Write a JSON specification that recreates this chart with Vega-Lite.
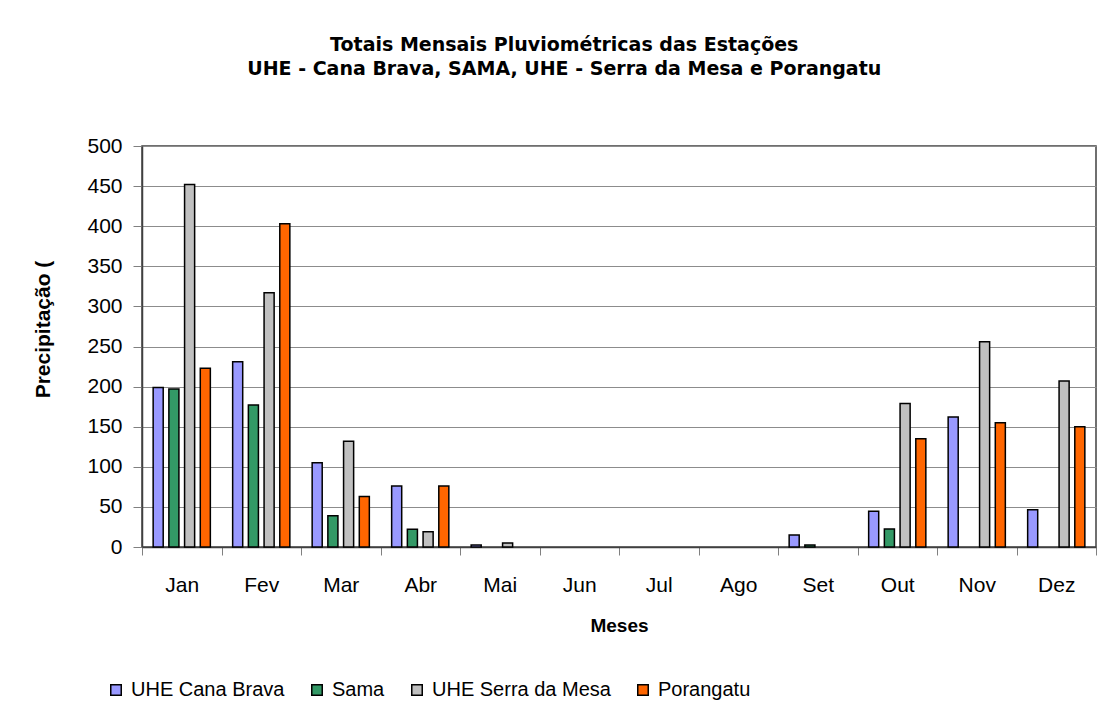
{
  "$schema": "https://vega.github.io/schema/vega-lite/v6.json",
  "width": 954,
  "height": 401,
  "autosize": {"type": "none"},
  "padding": {"left": 142, "top": 146, "right": 15, "bottom": 180},
  "background": "white",
  "title": {
    "text": ["Totais Mensais Pluviométricas das Estações", "UHE - Cana Brava, SAMA, UHE - Serra da Mesa e Porangatu"],
    "font": "DejaVu Sans",
    "fontSize": 19,
    "fontWeight": "bold",
    "lineHeight": 24,
    "anchor": "middle",
    "frame": "bounds",
    "offset": 56,
    "color": "black"
  },
  "config": {
    "view": {"stroke": "#404040", "strokeWidth": 1.5},
    "axis": {"labelFont": "Liberation Sans", "titleFont": "Liberation Sans", "labelColor": "black", "titleColor": "black"}
  },
  "data": {
    "values": [
      {"mes": "Jan", "estacao": "UHE Cana Brava", "valor": 199},
      {"mes": "Jan", "estacao": "Sama", "valor": 197},
      {"mes": "Jan", "estacao": "UHE Serra da Mesa", "valor": 452},
      {"mes": "Jan", "estacao": "Porangatu", "valor": 223},
      {"mes": "Fev", "estacao": "UHE Cana Brava", "valor": 231},
      {"mes": "Fev", "estacao": "Sama", "valor": 177},
      {"mes": "Fev", "estacao": "UHE Serra da Mesa", "valor": 317},
      {"mes": "Fev", "estacao": "Porangatu", "valor": 403},
      {"mes": "Mar", "estacao": "UHE Cana Brava", "valor": 105},
      {"mes": "Mar", "estacao": "Sama", "valor": 39},
      {"mes": "Mar", "estacao": "UHE Serra da Mesa", "valor": 132},
      {"mes": "Mar", "estacao": "Porangatu", "valor": 63},
      {"mes": "Abr", "estacao": "UHE Cana Brava", "valor": 76},
      {"mes": "Abr", "estacao": "Sama", "valor": 22},
      {"mes": "Abr", "estacao": "UHE Serra da Mesa", "valor": 19},
      {"mes": "Abr", "estacao": "Porangatu", "valor": 76},
      {"mes": "Mai", "estacao": "UHE Cana Brava", "valor": 2.5},
      {"mes": "Mai", "estacao": "UHE Serra da Mesa", "valor": 5},
      {"mes": "Set", "estacao": "UHE Cana Brava", "valor": 15},
      {"mes": "Set", "estacao": "Sama", "valor": 2.5},
      {"mes": "Out", "estacao": "UHE Cana Brava", "valor": 44.5},
      {"mes": "Out", "estacao": "Sama", "valor": 22.5},
      {"mes": "Out", "estacao": "UHE Serra da Mesa", "valor": 179},
      {"mes": "Out", "estacao": "Porangatu", "valor": 135},
      {"mes": "Nov", "estacao": "UHE Cana Brava", "valor": 162},
      {"mes": "Nov", "estacao": "UHE Serra da Mesa", "valor": 256},
      {"mes": "Nov", "estacao": "Porangatu", "valor": 155},
      {"mes": "Dez", "estacao": "UHE Cana Brava", "valor": 46.5},
      {"mes": "Dez", "estacao": "UHE Serra da Mesa", "valor": 207},
      {"mes": "Dez", "estacao": "Porangatu", "valor": 150}
    ]
  },
  "mark": {"type": "bar", "stroke": "black", "strokeWidth": 1.5},
  "encoding": {
    "x": {
      "field": "mes",
      "type": "nominal",
      "scale": {"domain": ["Jan", "Fev", "Mar", "Abr", "Mai", "Jun", "Jul", "Ago", "Set", "Out", "Nov", "Dez"], "paddingInner": 0, "paddingOuter": 0},
      "title": "Meses",
      "axis": {
        "labelAngle": 0,
        "labelFontSize": 21,
        "labelPadding": 19,
        "tickBand": "extent",
        "tickSize": 8,
        "tickColor": "#808080",
        "domainColor": "#404040",
        "domainWidth": 1.5,
        "titleFontSize": 19,
        "titleFontWeight": "bold",
        "titlePadding": 21
      }
    },
    "xOffset": {
      "field": "estacao",
      "scale": {"domain": ["UHE Cana Brava", "Sama", "UHE Serra da Mesa", "Porangatu"], "paddingInner": 0.36, "paddingOuter": 0.71}
    },
    "y": {
      "field": "valor",
      "type": "quantitative",
      "scale": {"domain": [0, 500]},
      "title": "Precipitação (",
      "axis": {
        "values": [0, 50, 100, 150, 200, 250, 300, 350, 400, 450, 500],
        "labelFontSize": 21,
        "labelPadding": 11,
        "tickSize": 9,
        "tickColor": "#808080",
        "domainColor": "#404040",
        "domainWidth": 1.5,
        "gridColor": "#8c8c8c",
        "gridWidth": 1,
        "titleFontSize": 21,
        "titleFontWeight": "bold",
        "titleX": -89,
        "titleY": 183
      }
    },
    "color": {
      "field": "estacao",
      "type": "nominal",
      "scale": {"domain": ["UHE Cana Brava", "Sama", "UHE Serra da Mesa", "Porangatu"], "range": ["#9999FF", "#339966", "#C0C0C0", "#FF6600"]},
      "legend": {
        "title": null,
        "orient": "none",
        "legendX": -36,
        "legendY": 534,
        "direction": "horizontal",
        "symbolType": "square",
        "symbolSize": 110,
        "symbolStrokeColor": "black",
        "symbolStrokeWidth": 1.5,
        "symbolOpacity": 1,
        "labelFont": "Liberation Sans",
        "labelFontSize": 20,
        "labelColor": "black",
        "labelOffset": 5,
        "columnPadding": 22,
        "labelLimit": 300
      }
    }
  }
}
